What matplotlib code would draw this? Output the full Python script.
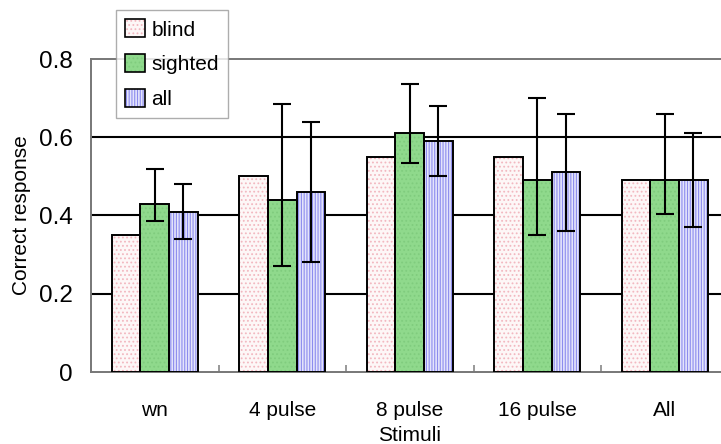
import matplotlib
matplotlib.use("Agg")
import matplotlib.pyplot as plt
from matplotlib.patches import Patch
from matplotlib.ticker import FixedLocator
import numpy as np

categories = ["wn", "4 pulse", "8 pulse", "16 pulse", "All"]
series_names = ["blind", "sighted", "all"]

blind = [0.35, 0.50, 0.55, 0.55, 0.49]
sighted = [0.43, 0.44, 0.61, 0.49, 0.49]
all_subjects = [0.41, 0.46, 0.59, 0.51, 0.49]

# error bar extents (lower / upper ends)
sighted_low = [0.385, 0.27, 0.535, 0.35, 0.405]
sighted_high = [0.52, 0.685, 0.735, 0.70, 0.66]
all_low = [0.34, 0.28, 0.50, 0.36, 0.37]
all_high = [0.48, 0.64, 0.68, 0.66, 0.61]

y_ticks = [0, 0.2, 0.4, 0.6, 0.8]
y_tick_labels = ["0", "0.2", "0.4", "0.6", "0.8"]

plt.rcParams["font.family"] = ["Liberation Sans", "DejaVu Sans"]
plt.rcParams["hatch.linewidth"] = 0.8

W, H = 721, 444
fig = plt.figure(figsize=(W / 100, H / 100), dpi=100)
left, right, top, bottom = 91, 728.5, 59, 372
ax = fig.add_axes([left / W, (H - bottom) / H, (right - left) / W, (bottom - top) / H])

x = np.arange(len(categories))
bw = 0.224

styles = [
    dict(face="#fdf7f7", hatch="....", hcolor="#f2b8c0"),
    dict(face="#8fd98c", hatch="....", hcolor="#80cc7e"),
    dict(face="#e4e4fb", hatch="||||||", hcolor="#8c8cee"),
]
values = [blind, sighted, all_subjects]
offsets = [-bw, 0, bw]

for vals, off, st in zip(values, offsets, styles):
    ax.bar(x + off, vals, bw, color=st["face"], hatch=st["hatch"],
           edgecolor=st["hcolor"], linewidth=0, zorder=3)
    ax.bar(x + off, vals, bw, fill=False, edgecolor="black",
           linewidth=1.4, zorder=4)

for vals, lo, hi, off in [(sighted, sighted_low, sighted_high, 0),
                          (all_subjects, all_low, all_high, bw)]:
    v = np.array(vals)
    yerr = [v - np.array(lo), np.array(hi) - v]
    ax.errorbar(x + off, v, yerr=yerr, fmt="none", ecolor="black",
                elinewidth=1.5, capsize=6.5, capthick=1.5, zorder=5)

ax.set_xlim(-0.5, len(categories) - 0.5)
ax.set_ylim(0, 0.8)

for yv in [0.2, 0.4, 0.6]:
    ax.axhline(yv, color="black", linewidth=1.5, zorder=1)

for side in ["left", "bottom", "top"]:
    ax.spines[side].set_color("#777777")
    ax.spines[side].set_linewidth(1.4)
ax.spines["right"].set_visible(False)

ax.set_yticks(y_ticks)
ax.set_yticklabels(y_tick_labels, fontsize=17.5)
ax.tick_params(axis="y", length=0, pad=13)

ax.set_xticks(x)
ax.set_xticklabels(categories, fontsize=15)
ax.tick_params(axis="x", which="major", length=0, pad=21)
ax.xaxis.set_minor_locator(FixedLocator(x[:-1] + 0.5))
ax.tick_params(axis="x", which="minor", direction="in", length=5,
               color="#888888", width=1.2)

ax.set_xlabel("Stimuli", fontsize=15, labelpad=4)
ax.set_ylabel("Correct response", fontsize=15, labelpad=6)

handles = []
for st in styles:
    h1 = Patch(facecolor=st["face"], hatch=st["hatch"], edgecolor=st["hcolor"], linewidth=0)
    h2 = Patch(fill=False, edgecolor="black", linewidth=1.2)
    handles.append((h1, h2))

leg = fig.legend(handles, series_names, loc="upper left",
                 bbox_to_anchor=(116 / W, 1 - 10 / H),
                 fontsize=15, frameon=True, fancybox=False,
                 handlelength=0.95, handleheight=0.95, handletextpad=0.3,
                 labelspacing=0.7, borderpad=0.45, borderaxespad=0)
leg.get_frame().set_edgecolor("#999999")
leg.get_frame().set_linewidth(1.0)
leg.set_zorder(10)

fig.savefig("out.png", dpi=100)
